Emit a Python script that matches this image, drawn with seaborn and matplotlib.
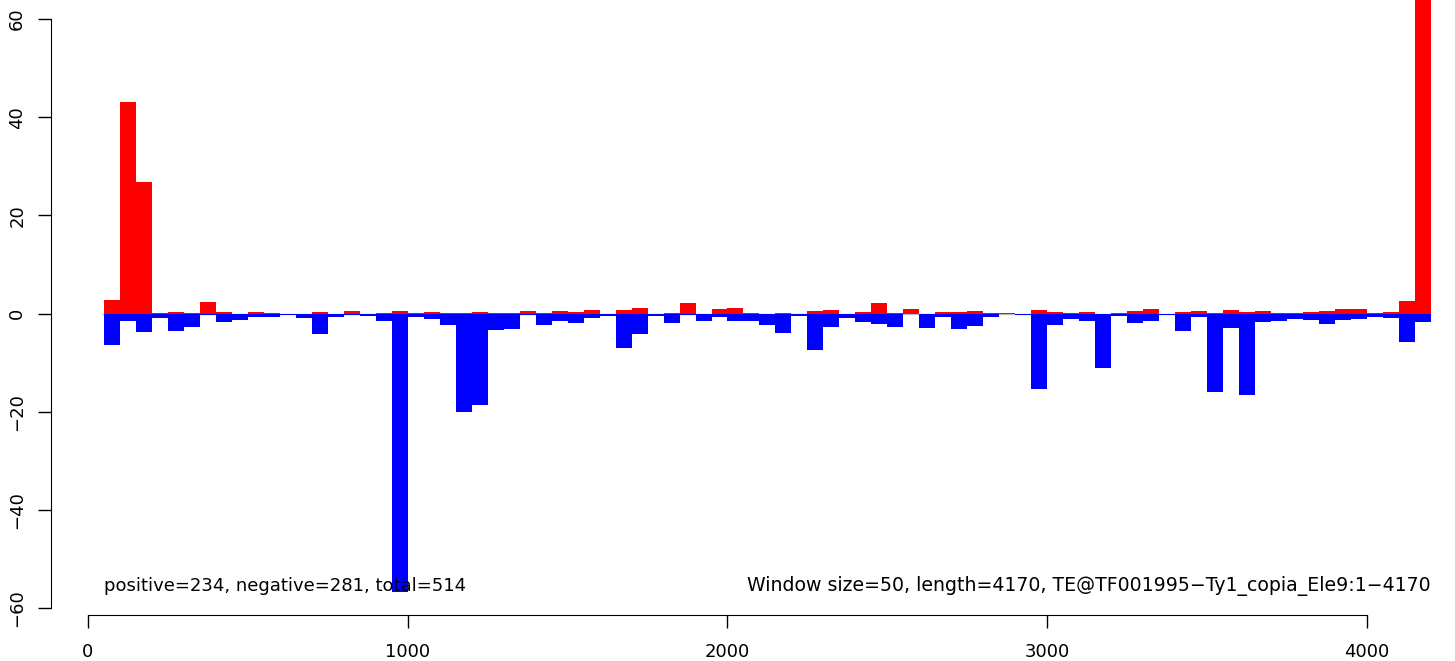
import matplotlib
matplotlib.use("Agg")
import matplotlib.pyplot as plt
import seaborn as sns

# windows of 50 bp along the TE (left edge of each window)
win_start = list(range(50, 4200, 50))

pos_vals = [2.8, 43.1, 26.8, 0.2, 0.35, 0.15, 2.4, 0.35, 0, 0.35,
            0.15, 0, 0, 0.35, 0, 0.55, 0, 0.15, 0.55, 0.15,
            0.35, 0.15, 0.15, 0.3, 0.15, 0.15, 0.5, 0.05, 0.5, 0.3,
            0.7, 0, 0.7, 1.1, 0, 0.1, 2.1, 0, 0.9, 1.1,
            0.1, 0, 0.1, 0, 0.5, 0.7, 0, 0.3, 2.1, 0.1,
            0.95, 0, 0.35, 0.35, 0.55, 0.15, 0.15, 0, 0.75, 0.35,
            0.15, 0.35, 0, 0.15, 0.55, 0.95, 0, 0.35, 0.55, 0.15,
            0.75, 0.35, 0.55, 0.15, 0.15, 0.35, 0.55, 0.95, 0.95, 0.15,
            0.35, 2.6, 125]

neg_vals = [-6.3, -1.4, -3.7, -0.8, -3.5, -2.7, -0.2, -1.8, -1.2, -0.6,
            -0.6, -0.2, -0.8, -4.1, -0.6, -0.2, -0.4, -1.4, -56.7, -0.6,
            -1.0, -2.4, -20.0, -18.7, -3.4, -3.2, -0.3, -2.4, -1.6, -2.0,
            -0.95, -0.55, -7.1, -4.2, -0.55, -2.0, -0.3, -1.6, -0.75, -1.6,
            -1.6, -2.4, -4.0, -0.55, -7.5, -2.8, -0.95, -1.8, -2.2, -2.7,
            -0.1, -2.9, -0.7, -3.1, -2.5, -0.7, -0.1, -0.2, -15.4, -2.3,
            -1.1, -1.5, -11.1, -0.4, -1.9, -1.5, -0.2, -3.5, -0.7, -16.0,
            -2.9, -16.6, -1.7, -1.5, -1.1, -1.3, -2.1, -1.3, -1.1, -0.7,
            -0.9, -5.8, -1.7]

left_note = "positive=234, negative=281, total=514"
right_note = "Window size=50, length=4170, TE@TF001995\u2212Ty1_copia_Ele9:1\u22124170"

x_ticks = [0, 1000, 2000, 3000, 4000]
y_ticks = [-60, -40, -20, 0, 20, 40, 60]

centers = [s + 25 for s in win_start]

fig = plt.figure(figsize=(14.55, 6.61), dpi=100)
ax = fig.add_axes([51 / 1455, 46 / 661, 1404 / 1455, 615 / 661])

# grey zero line under the bars
ax.hlines(0, 45, 4200, color="#BEBEBE", lw=1, zorder=0)

sns.barplot(x=centers, y=pos_vals, native_scale=True, width=1, color="#FF0000",
            saturation=1, errorbar=None, linewidth=0, edgecolor="none", ax=ax)
sns.barplot(x=centers, y=neg_vals, native_scale=True, width=1, color="#0000FF",
            saturation=1, errorbar=None, linewidth=0, edgecolor="none", ax=ax)

ax.set_xlim(-115.7, 4275.2)
ax.set_ylim(-61.4, 63.9)

ax.text(50, -56.6, left_note, ha="left", va="baseline", fontsize=13)
ax.text(4200, -56.6, right_note, ha="right", va="baseline", fontsize=13.6)

for s in ["top", "right"]:
    ax.spines[s].set_visible(False)
ax.spines["bottom"].set_bounds(0, 4000)
ax.spines["left"].set_bounds(-60, 60)

ax.set_xticks(x_ticks)
ax.set_yticks(y_ticks)
ax.tick_params(axis="both", length=9.4, width=1, labelsize=13)
ax.tick_params(axis="x", pad=10.8)
ax.tick_params(axis="y", pad=8.5)
for lab in ax.get_yticklabels():
    lab.set_rotation(90)
    lab.set_va("center")
ax.set_xlabel("")
ax.set_ylabel("")

fig.savefig("out.png", dpi=100)
